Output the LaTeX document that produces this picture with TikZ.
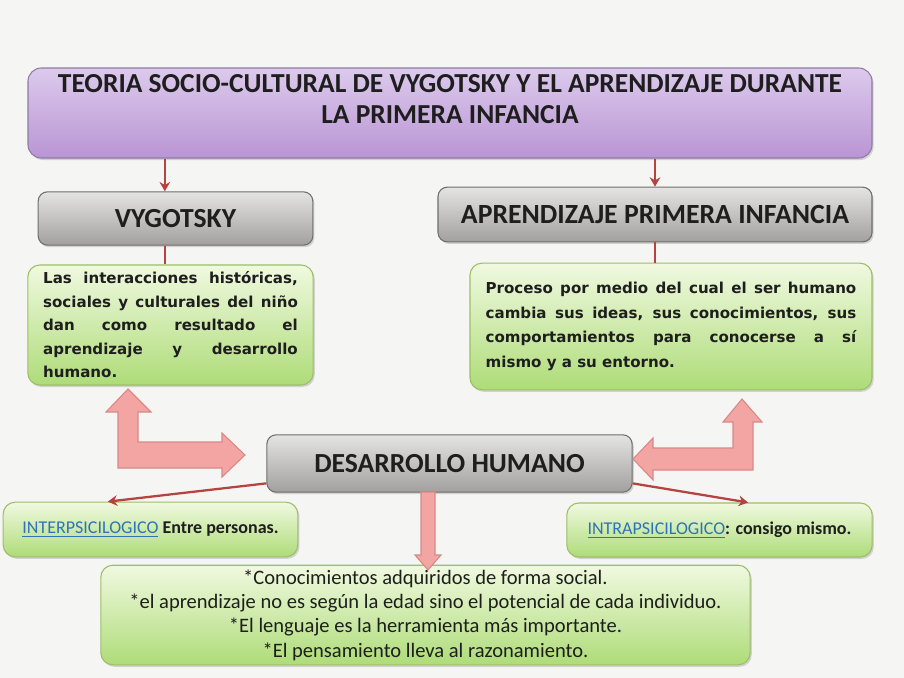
\documentclass[tikz,border=0pt]{standalone}
\usepackage{fontspec}
\setmainfont{Carlito}
\newfontfamily\boxfont{DejaVu Sans}
\usetikzlibrary{arrows.meta,shadows}
\definecolor{fondo}{HTML}{F5F5F3}
\definecolor{lilatop}{HTML}{DCCAEC}
\definecolor{lilabot}{HTML}{B995D4}
\definecolor{lilaborde}{HTML}{8F7BA3}
\definecolor{gristop}{HTML}{E4E4E2}
\definecolor{grisbot}{HTML}{A2A09E}
\definecolor{grisborde}{HTML}{6F6F6F}
\definecolor{verdetop}{HTML}{F0F9E0}
\definecolor{verdebot}{HTML}{AEDC78}
\definecolor{verdeborde}{HTML}{9DBE68}
\definecolor{rosa}{HTML}{F3A5A3}
\definecolor{rosaborde}{HTML}{D98886}
\definecolor{rojo}{HTML}{B5433F}
\definecolor{azul}{HTML}{2E74B5}
\definecolor{texto}{HTML}{1E1E1E}
\tikzset{
  sombra/.style={drop shadow={shadow xshift=1.2pt,shadow yshift=-1.5pt,opacity=.3}},
  titlebox/.style={draw=lilaborde,line width=.8pt,rounded corners=10pt,top color=lilatop,bottom color=lilabot,sombra},
  headbox/.style={draw=grisborde,line width=.8pt,rounded corners=7pt,top color=gristop,bottom color=grisbot,sombra,
    text=texto,font=\bfseries\fontsize{20.7}{24}\selectfont},
  greenbox/.style={draw=verdeborde,line width=.8pt,rounded corners=9pt,top color=verdetop,bottom color=verdebot,sombra,text=texto},
  link/.style={draw=rojo,line width=1.7pt},
  fatarrow/.style={fill=rosa,draw=rosaborde,line width=.8pt,line join=miter},
}
\begin{document}
\begin{tikzpicture}[x=0.75pt,y=-0.75pt]
\fill[fondo] (0,0) rectangle (904,678);
\useasboundingbox (0,0) rectangle (904,678);

% cajas
\node[titlebox,minimum width=633pt,minimum height=67.5pt] (title) at (450,113) {};
\node[font=\bfseries\fontsize{20.6}{23.3}\selectfont,text=texto,align=center] (titletxt) at ([yshift=10.5pt]title.center)
  {TEORIA SOCIO-CULTURAL DE VYGOTSKY Y EL APRENDIZAJE DURANTE\\LA PRIMERA INFANCIA};
\node[headbox,minimum width=206pt,minimum height=40pt] (vyg) at (175.5,218.5) {VYGOTSKY};
\node[headbox,minimum width=325.5pt,minimum height=41pt,font=\bfseries\fontsize{20.8}{24}\selectfont] (apr) at (655,214.5) {APRENDIZAJE PRIMERA INFANCIA};
\node[greenbox,minimum width=214pt,minimum height=90pt,text width=191pt,align=justify,
  font=\boxfont\bfseries\fontsize{11.3}{17.6}\selectfont] (g1) at (170.5,325)
  {Las interacciones históricas,\linebreak sociales y culturales del niño\linebreak dan como resultado el\linebreak aprendizaje y desarrollo\linebreak humano.};
\node[greenbox,minimum width=301.5pt,minimum height=95pt,text width=278pt,align=justify,
  font=\boxfont\bfseries\fontsize{11.3}{18.3}\selectfont] (g2) at (671,326.5)
  {Proceso por medio del cual el ser humano\linebreak cambia sus ideas, sus conocimientos, sus\linebreak comportamientos para conocerse a sí\linebreak mismo y a su entorno.};
\node[headbox,minimum width=274pt,minimum height=43pt] (dh) at (449.5,463.5) {DESARROLLO HUMANO};
\node[greenbox,minimum width=221pt,minimum height=41pt,font=\fontsize{13.5}{16}\selectfont] (inter) at (150.5,529.5)
  {\textcolor{azul}{\underline{INTERPSICILOGICO}} \textbf{Entre personas.}};
\node[greenbox,minimum width=229pt,minimum height=40.5pt,font=\fontsize{13.5}{16}\selectfont] (intra) at (719.5,530)
  {\textcolor{azul}{\underline{INTRAPSICILOGICO}}\textbf{: consigo mismo.}};
\node[greenbox,minimum width=487pt,minimum height=72pt,align=center,font=\fontsize{15.4}{18.2}\selectfont] (lista) at (425.5,615)
  {*Conocimientos adquiridos de forma social.\\
   *el aprendizaje no es según la edad sino el potencial de cada individuo.\\
   *El lenguaje es la herramienta más importante.\\
   *El pensamiento lleva al razonamiento.};

% flechas gruesas
\draw[fatarrow] (128,389) -- (151,412) -- (138,412) -- (138,442) -- (222,442) -- (222,433) -- (245,455)
  -- (222,477) -- (222,468) -- (118,468) -- (118,412) -- (106,412) -- cycle;
\draw[fatarrow] (742,399) -- (762,422) -- (753,422) -- (753,470) -- (653,470) -- (653,480) -- (633,459)
  -- (653,438) -- (653,448) -- (733,448) -- (733,422) -- (723,422) -- cycle;
\draw[fatarrow] (421,492) -- (435,492) -- (435,555) -- (441,555) -- (428,570) -- (415,555) -- (421,555) -- cycle;

% conectores
\draw[link,-{Stealth[length=7pt,width=8pt]}] ([xshift=-8pt]vyg.north |- title.south) -- ([xshift=-8pt]vyg.north);
\draw[link,-{Stealth[length=7pt,width=8pt]}] (apr.north |- title.south) -- (apr.north);
\draw[link] ([xshift=-8pt]vyg.south) -- ([xshift=-8pt]vyg.south |- g1.north);
\draw[link] (apr.south) -- (apr.south |- g2.north);
\draw[link,-{Stealth[length=7pt,width=8pt]}] ([yshift=7pt]dh.south west) -- ([xshift=-32pt]inter.north);
\draw[link,-{Stealth[length=7pt,width=8pt]}] ([yshift=7pt]dh.south east) -- ([xshift=21.4pt]intra.north);
\end{tikzpicture}
\end{document}
